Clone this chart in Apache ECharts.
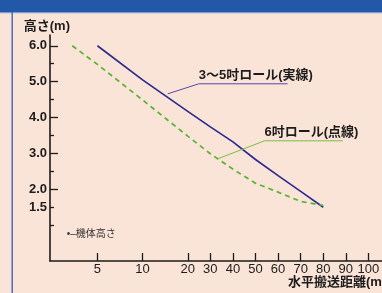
<!DOCTYPE html>
<html>
<head>
<meta charset="utf-8">
<script src="https://cdn.jsdelivr.net/npm/echarts@6/dist/echarts.min.js"></script>
<style>
  html, body { margin: 0; padding: 0; background: #fae3d7; }
  #chart { width: 382px; height: 293px; }
</style>
</head>
<body>
<div id="chart"></div>
<script>
// horizontal distance (m) -> height (m)
const smallRollDist = [5, 10, 20, 30, 40, 50, 60, 70, 80];
const smallRollHeight = [6.0, 5.05, 4.17, 3.74, 3.32, 2.83, 2.38, 1.94, 1.5];
const largeRollDist = [3.4, 5, 10, 20, 30, 40, 50, 60, 70, 80];
const largeRollHeight = [6.0, 5.48, 4.49, 3.48, 2.99, 2.56, 2.17, 1.92, 1.66, 1.55];

const xTickValues = [5, 10, 20, 30, 40, 50, 60, 70, 80, 90, 100];
const yLabelValues = [1.5, 2, 3, 4, 5, 6];
const yMajorTicks = [2, 3, 4, 5, 6];
const yMinorTicks = [1, 1.5, 2.5, 3.5, 4.5, 5.5];

// leader lines for the two callouts: [distance, height]
const smallRollLeader = [[14.7, 4.66], [24.9, 4.94], [64.2, 4.94]];
const largeRollLeader = [[33.3, 2.85], [54, 3.35], [88.6, 3.35]];
const bodyHeightNote = [3.1, 0.75];

// x axis is squeezed under 20 m (5-10-20 evenly spaced), linear above
const toU = (m) => (m <= 20 ? 2 * Math.log2(m / 10) : m / 10);
const fromU = (u) => (u <= 2 ? 10 * Math.pow(2, u / 2) : u * 10);
const pts = (xs, ys) => xs.map((x, i) => [toU(x), ys[i]]);
const leaderPts = (arr) => arr.map((p) => [toU(p[0]), p[1]]);

const inkColor = "#1c1c1c";
const fontStack = "'Liberation Sans', 'Noto Sans CJK JP', sans-serif";
const clear = "rgba(0,0,0,0)";

// leader line with its caption sitting on the elbow point
const leaderSeries = (arr, color, caption) => ({
  type: "line",
  data: leaderPts(arr).map((p, i) =>
    i === 1
      ? {
          value: p,
          label: {
            show: true,
            formatter: caption,
            position: "top",
            align: "left",
            verticalAlign: "bottom",
            distance: 1,
            color: inkColor,
            fontSize: 13,
            fontWeight: "bold",
            fontFamily: fontStack,
          },
        }
      : p
  ),
  symbol: "circle",
  symbolSize: 1,
  showSymbol: true,
  itemStyle: { color: clear },
  silent: true,
  lineStyle: { color: color, width: 1 },
});

const chart = echarts.init(document.getElementById("chart"));

chart.setOption({
  backgroundColor: "#fae3d7",
  animation: false,
  grid: { left: 50, top: 35, width: 341, height: 226, outerBoundsMode: "none" },
  graphic: [
    { type: "rect", shape: { x: 0, y: 0, width: 382, height: 12 }, style: { fill: "#2358a8" } },
    { type: "rect", shape: { x: 0, y: 12, width: 382, height: 1.2 }, style: { fill: "#7f9fd0" } },
    { type: "rect", shape: { x: 11.5, y: 12, width: 1.4, height: 281 }, style: { fill: "#3a67b5" } },
  ],
  xAxis: {
    type: "value",
    min: -4.1,
    max: 11,
    name: "水平搬送距離(m)",
    nameLocation: "end",
    nameGap: -103,
    nameTextStyle: {
      align: "left",
      verticalAlign: "top",
      padding: [15, 0, 0, 0],
      color: inkColor,
      fontSize: 13,
      fontWeight: "bold",
      fontFamily: fontStack,
    },
    axisLine: { show: true, onZero: false, lineStyle: { color: inkColor, width: 1.5 } },
    axisTick: {
      show: true,
      inside: true,
      length: 8,
      customValues: xTickValues.map(toU),
      lineStyle: { color: inkColor, width: 1.3 },
    },
    axisLabel: {
      customValues: xTickValues.map(toU),
      formatter: (v) => String(Math.round(fromU(v))),
      color: inkColor,
      fontSize: 13,
      fontFamily: fontStack,
      margin: 2,
    },
    splitLine: { show: false },
  },
  yAxis: [
    {
      type: "value",
      position: "left",
      min: 0,
      max: 6.3,
      name: "高さ(m)",
      nameLocation: "end",
      nameGap: 2,
      nameTextStyle: {
        align: "right",
        verticalAlign: "bottom",
        padding: [0, -20, 0, 0],
        color: inkColor,
        fontSize: 13,
        fontWeight: "bold",
        fontFamily: fontStack,
      },
      axisLine: { show: true, onZero: false, lineStyle: { color: inkColor, width: 1.6 } },
      axisTick: {
        show: true,
        inside: true,
        length: 8,
        customValues: yMajorTicks,
        lineStyle: { color: inkColor, width: 1.3 },
      },
      axisLabel: {
        customValues: yLabelValues,
        formatter: (v) => v.toFixed(1),
        color: inkColor,
        fontSize: 13,
        fontWeight: "bold",
        fontFamily: fontStack,
        margin: 3,
      },
      splitLine: { show: false },
    },
    {
      // short ticks at the half steps
      type: "value",
      position: "left",
      min: 0,
      max: 6.3,
      axisLine: { show: false, onZero: false },
      axisTick: {
        show: true,
        inside: true,
        length: 4,
        customValues: yMinorTicks,
        lineStyle: { color: inkColor, width: 1.3 },
      },
      axisLabel: { show: false },
      splitLine: { show: false },
    },
  ],
  series: [
    {
      type: "line",
      data: pts(smallRollDist, smallRollHeight),
      symbol: "none",
      lineStyle: { color: "#2c2b8f", width: 1.7 },
    },
    {
      type: "line",
      data: pts(largeRollDist, largeRollHeight),
      symbol: "none",
      lineStyle: { color: "#58b232", width: 1.7, type: [5, 4] },
    },
    leaderSeries(smallRollLeader, "#5a48aa", "3〜5吋ロール(実線)"),
    leaderSeries(largeRollLeader, "#78c044", "6吋ロール(点線)"),
    {
      type: "line",
      data: [[toU(bodyHeightNote[0]), bodyHeightNote[1]]],
      symbol: "circle",
      symbolSize: 1,
      showSymbol: true,
      itemStyle: { color: clear },
      silent: true,
      label: {
        show: true,
        formatter: "•–機体高さ",
        position: "right",
        distance: 0,
        color: "#333",
        fontSize: 10,
        fontFamily: fontStack,
      },
    },
  ],
});
</script>
</body>
</html>
